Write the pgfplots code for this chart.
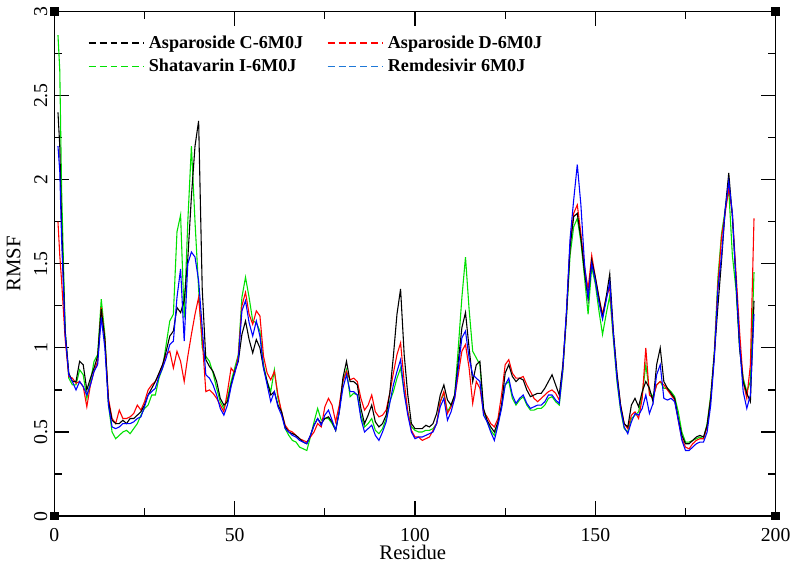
\documentclass[border=0pt]{standalone}
\usepackage{fontspec}
\setmainfont{Liberation Serif}
\usepackage{pgfplots}
\usepackage{pgfplotstable}
\usetikzlibrary{calc}
\pgfplotsset{compat=1.18}

\definecolor{sgreen}{RGB}{0,225,0}
\definecolor{legblue}{RGB}{30,120,215}

% residue, Asparoside C, Asparoside D, Shatavarin I, Remdesivir
\pgfplotstableread{
x C D S R
1 2.40 1.75 2.86 2.20
1.5 2.20 1.55 2.65 2.05
2 1.75 1.40 1.95 1.65
3 1.10 1.05 1.10 1.08
4 0.85 0.83 0.82 0.84
5 0.80 0.82 0.78 0.80
6 0.80 0.79 0.78 0.75
7 0.92 0.80 0.87 0.80
8 0.90 0.77 0.84 0.77
9 0.75 0.65 0.70 0.72
10 0.82 0.78 0.80 0.78
11 0.88 0.86 0.92 0.86
12 0.95 0.92 0.96 0.90
13 1.23 1.24 1.29 1.18
14 1.05 1.05 1.08 1.00
15 0.68 0.70 0.66 0.66
16 0.57 0.58 0.50 0.53
17 0.55 0.55 0.46 0.52
18 0.55 0.63 0.48 0.53
19 0.57 0.58 0.50 0.55
20 0.55 0.58 0.51 0.55
21 0.58 0.59 0.49 0.55
22 0.58 0.61 0.52 0.56
23 0.60 0.66 0.55 0.58
24 0.62 0.63 0.60 0.59
25 0.66 0.68 0.64 0.65
26 0.72 0.75 0.66 0.72
27 0.76 0.78 0.72 0.74
28 0.80 0.80 0.72 0.76
29 0.85 0.84 0.82 0.83
30 0.90 0.90 0.88 0.88
31 0.98 0.96 1.02 0.94
32 1.07 0.98 1.16 1.02
33 1.10 0.88 1.20 1.04
34 1.24 0.98 1.69 1.30
35 1.21 0.92 1.79 1.47
36 1.28 0.80 1.18 1.04
37 1.53 0.95 1.75 1.50
38 1.90 1.08 2.20 1.57
39 2.20 1.20 1.75 1.54
40 2.35 1.30 1.35 1.40
41 1.35 1.05 1.00 1.12
42 0.93 0.74 0.95 0.84
43 0.89 0.75 0.92 0.82
44 0.86 0.73 0.85 0.78
45 0.80 0.70 0.76 0.72
46 0.70 0.66 0.68 0.64
47 0.66 0.62 0.64 0.60
48 0.68 0.74 0.70 0.66
49 0.78 0.88 0.80 0.77
50 0.86 0.85 0.88 0.85
51 0.92 0.95 0.96 0.93
52 1.08 1.25 1.30 1.22
53 1.16 1.33 1.42 1.28
54 1.05 1.20 1.30 1.15
55 0.97 1.14 1.16 1.07
56 1.05 1.22 1.15 1.16
57 1.00 1.19 1.10 1.07
58 0.88 0.95 0.90 0.88
59 0.80 0.85 0.80 0.78
60 0.72 0.81 0.74 0.68
61 0.74 0.86 0.87 0.74
62 0.66 0.72 0.70 0.65
63 0.62 0.62 0.62 0.60
64 0.53 0.54 0.52 0.52
65 0.50 0.51 0.48 0.50
66 0.49 0.50 0.45 0.48
67 0.48 0.48 0.44 0.47
68 0.46 0.46 0.41 0.45
69 0.44 0.45 0.40 0.44
70 0.43 0.44 0.39 0.43
71 0.48 0.47 0.47 0.48
72 0.54 0.50 0.56 0.54
73 0.58 0.55 0.64 0.58
74 0.55 0.53 0.57 0.54
75 0.58 0.65 0.58 0.60
76 0.59 0.70 0.58 0.63
77 0.56 0.66 0.55 0.57
78 0.51 0.56 0.51 0.51
79 0.62 0.66 0.63 0.62
80 0.82 0.80 0.80 0.76
81 0.92 0.86 0.87 0.84
82 0.80 0.81 0.71 0.74
83 0.80 0.82 0.73 0.74
84 0.78 0.80 0.72 0.72
85 0.64 0.70 0.60 0.58
86 0.55 0.63 0.53 0.50
87 0.60 0.66 0.55 0.52
88 0.66 0.72 0.58 0.54
89 0.56 0.62 0.51 0.48
90 0.53 0.59 0.49 0.45
91 0.55 0.60 0.52 0.50
92 0.60 0.63 0.58 0.56
93 0.73 0.73 0.68 0.67
94 0.95 0.85 0.74 0.78
95 1.20 0.96 0.82 0.86
96 1.35 1.03 0.88 0.93
97 0.96 0.80 0.74 0.73
98 0.72 0.62 0.62 0.60
99 0.55 0.51 0.53 0.50
100 0.52 0.47 0.51 0.46
101 0.52 0.47 0.50 0.47
102 0.52 0.45 0.50 0.47
103 0.54 0.46 0.51 0.48
104 0.53 0.47 0.51 0.49
105 0.55 0.51 0.52 0.50
106 0.61 0.55 0.55 0.55
107 0.72 0.68 0.68 0.65
108 0.78 0.74 0.73 0.70
109 0.69 0.61 0.62 0.57
110 0.66 0.65 0.66 0.62
111 0.72 0.70 0.72 0.70
112 0.92 0.84 1.00 0.88
113 1.12 0.98 1.30 1.06
114 1.21 1.02 1.54 1.10
115 1.00 0.88 1.23 0.94
116 0.80 0.67 0.98 0.84
117 0.90 0.80 0.94 0.82
118 0.92 0.76 0.90 0.80
119 0.64 0.62 0.63 0.60
120 0.57 0.59 0.56 0.56
121 0.53 0.55 0.51 0.50
122 0.50 0.53 0.48 0.45
123 0.56 0.58 0.55 0.54
124 0.66 0.72 0.65 0.64
125 0.85 0.90 0.78 0.78
126 0.90 0.93 0.80 0.82
127 0.83 0.85 0.70 0.72
128 0.80 0.82 0.66 0.67
129 0.82 0.82 0.69 0.70
130 0.81 0.83 0.71 0.72
131 0.75 0.78 0.66 0.67
132 0.71 0.74 0.63 0.64
133 0.72 0.70 0.63 0.65
134 0.73 0.68 0.64 0.66
135 0.73 0.70 0.64 0.66
136 0.76 0.72 0.66 0.68
137 0.80 0.74 0.70 0.72
138 0.84 0.75 0.71 0.72
139 0.78 0.73 0.68 0.69
140 0.72 0.69 0.66 0.67
141 0.90 0.88 0.86 0.88
142 1.20 1.20 1.18 1.22
143 1.60 1.62 1.55 1.65
144 1.78 1.80 1.72 1.88
145 1.80 1.85 1.77 2.09
146 1.65 1.68 1.63 1.85
147 1.45 1.48 1.42 1.50
148 1.29 1.35 1.20 1.30
149 1.52 1.55 1.48 1.50
150 1.42 1.42 1.38 1.40
151 1.30 1.30 1.22 1.27
152 1.18 1.20 1.08 1.17
153 1.30 1.30 1.20 1.28
154 1.44 1.36 1.31 1.39
155 1.10 1.08 1.05 1.08
156 0.85 0.84 0.80 0.82
157 0.66 0.66 0.63 0.64
158 0.55 0.55 0.52 0.53
159 0.53 0.52 0.50 0.49
160 0.66 0.60 0.58 0.56
161 0.70 0.62 0.60 0.61
162 0.65 0.58 0.62 0.60
163 0.74 0.70 0.72 0.64
164 0.80 1.00 0.90 0.72
165 0.76 0.72 0.74 0.61
166 0.68 0.70 0.71 0.67
167 0.90 0.78 0.78 0.84
168 1.00 0.80 0.80 0.90
169 0.80 0.78 0.76 0.70
170 0.76 0.75 0.76 0.69
171 0.73 0.72 0.74 0.70
172 0.70 0.69 0.71 0.68
173 0.58 0.57 0.62 0.57
174 0.48 0.46 0.50 0.45
175 0.43 0.41 0.44 0.39
176 0.43 0.40 0.44 0.39
177 0.45 0.43 0.45 0.41
178 0.47 0.45 0.46 0.43
179 0.48 0.46 0.47 0.44
180 0.47 0.46 0.46 0.44
181 0.54 0.53 0.55 0.50
182 0.70 0.70 0.72 0.66
183 0.96 0.96 0.98 0.94
184 1.25 1.38 1.42 1.35
185 1.52 1.66 1.68 1.55
186 1.82 1.80 1.82 1.82
187 2.04 1.95 1.94 1.99
188 1.78 1.80 1.55 1.80
189 1.40 1.45 1.35 1.40
190 1.00 1.10 1.00 1.02
191 0.80 0.80 0.82 0.74
192 0.73 0.70 0.74 0.64
193 0.68 0.90 0.80 0.72
194 1.28 1.77 1.45 1.20
}\rmsf

\begin{document}
\begin{tikzpicture}
\begin{axis}[
    width=364.5bp, height=255bp, scale only axis,
    xmin=0, xmax=200, ymin=0, ymax=3,
    xtick={0,50,...,200}, minor xtick={25,75,125,175},
    ytick={0,0.5,...,3}, minor ytick={0.25,0.75,...,2.75},
    tick align=inside,
    major tick length=7.5bp, minor tick length=4bp,
    axis line style={line width=0.8bp},
    every tick/.style={black, line width=0.6bp},
    ticklabel style={font=\fontsize{10}{12}\selectfont},
    xticklabel style={yshift=-2.5bp},
    yticklabel style={rotate=90, anchor=south},
    /pgf/number format/assume math mode=true,
    xlabel={Residue}, ylabel={RMSF},
    label style={font=\fontsize{10.5}{12}\selectfont},
    xlabel style={at={(rel axis cs:0.497,0)}, anchor=north, yshift=-11bp},
    clip=false,
    legend columns=2,
    legend cell align=left,
    legend style={draw=none, fill=none, inner sep=0pt,
        at={(rel axis cs:0.046,0.961)}, anchor=north west,
        font=\bfseries\fontsize{9.2}{11}\selectfont,
        /tikz/every even column/.append style={column sep=10bp}},
    legend image code/.code={\draw[#1, dash pattern=on 3.5bp off 2bp, line width=0.8bp] (0,0) -- (28bp,0);},
]
\addlegendimage{black}
\addlegendimage{red}
\addlegendimage{sgreen}
\addlegendimage{legblue}
\legend{Asparoside C-6M0J, Asparoside D-6M0J, Shatavarin I-6M0J, Remdesivir 6M0J}

\addplot[sgreen, line width=0.55bp, forget plot] table[x=x, y=S] {\rmsf};
\addplot[red, line width=0.55bp, forget plot] table[x=x, y=D] {\rmsf};
\addplot[black, line width=0.55bp, forget plot] table[x=x, y=C] {\rmsf};
\addplot[blue, line width=0.55bp, forget plot] table[x=x, y=R] {\rmsf};

% corner squares of the frame
\fill[black] ($(rel axis cs:0,0)+(-2.2bp,-2.2bp)$) rectangle ++(4.4bp,4.4bp);
\fill[black] ($(rel axis cs:0,1)+(-2.2bp,-2.2bp)$) rectangle ++(4.4bp,4.4bp);
\fill[black] ($(rel axis cs:1,0)+(-2.2bp,-2.2bp)$) rectangle ++(4.4bp,4.4bp);
\fill[black] ($(rel axis cs:1,1)+(-2.2bp,-2.2bp)$) rectangle ++(4.4bp,4.4bp);
\end{axis}
\end{tikzpicture}
\end{document}
